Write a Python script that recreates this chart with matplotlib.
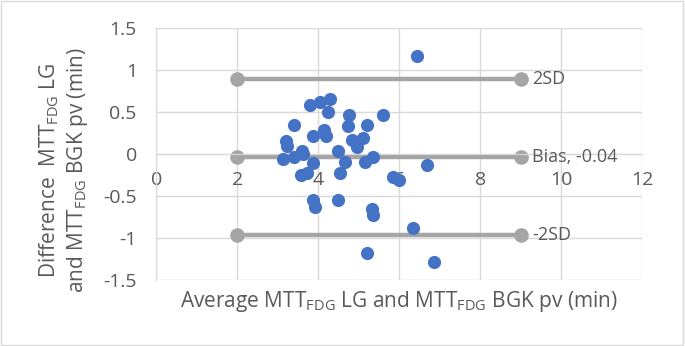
import matplotlib.pyplot as plt
from matplotlib.patches import Rectangle

plt.rcParams['font.family'] = ['Open Sans', 'DejaVu Sans']
plt.rcParams['mathtext.fontset'] = 'custom'
plt.rcParams['mathtext.rm'] = 'Open Sans'
plt.rcParams['mathtext.it'] = 'Open Sans'

# Bland-Altman data
avg_mtt = [3.80, 4.04, 4.28, 4.23, 4.75, 5.59, 3.39, 4.74, 5.20, 4.13,
           3.88, 4.19, 3.19, 4.83, 5.11, 4.95, 3.22, 3.59, 3.14, 3.39,
           3.63, 3.86, 3.57, 3.71, 4.49, 4.66, 4.54, 5.15, 5.36, 5.85,
           5.98, 6.68, 6.43, 3.86, 3.92, 4.48, 5.32, 5.34, 6.35, 5.19, 6.86]
diff_mtt = [0.58, 0.62, 0.66, 0.50, 0.47, 0.46, 0.35, 0.33, 0.35, 0.29,
            0.21, 0.21, 0.16, 0.17, 0.19, 0.08, 0.09, 0.04, -0.06, -0.04,
            0.00, -0.11, -0.25, -0.23, 0.04, -0.09, -0.23, -0.09, -0.04, -0.27,
            -0.31, -0.13, 1.17, -0.55, -0.63, -0.55, -0.66, -0.73, -0.88, -1.18, -1.28]

line_x = [2, 9]
bias = -0.04
upper = 0.89
lower = -0.97
ref_lines = [(upper, '2SD'), (bias, 'Bias, -0.04'), (lower, '-2SD')]

blue = '#4472C4'
gray = '#A5A5A5'
grid_c = '#D9D9D9'
text_c = '#595959'

fig = plt.figure(figsize=(6.85, 3.46), dpi=100)
ax = fig.add_axes([0.2282, 0.1908, 0.7095, 0.7283])

for val, lab in ref_lines:
    ax.plot(line_x, [val, val], color=gray, lw=3.2, marker='o', ms=9.5, zorder=2)
    ax.annotate(lab, (line_x[1], val), xytext=(8, 0), textcoords='offset points',
                va='center', ha='left', fontsize=13, color=text_c)

ax.scatter(avg_mtt, diff_mtt, s=90, color=blue, zorder=3, linewidths=0)

ax.set_xlim(0, 12)
ax.set_ylim(-1.5, 1.5)
ax.set_xticks(range(0, 13, 2))
ax.set_yticks([-1.5, -1, -0.5, 0, 0.5, 1, 1.5])
ax.set_yticklabels(['-1.5', '-1', '-0.5', '0', '0.5', '1', '1.5'])
ax.grid(True, color=grid_c, lw=1)
ax.set_axisbelow(True)

for s in ['top', 'right']:
    ax.spines[s].set_visible(False)
ax.spines['left'].set_color(grid_c)
ax.spines['bottom'].set_color(grid_c)
ax.spines['bottom'].set_position(('data', 0))
ax.tick_params(length=0, labelsize=14, colors=text_c)
ax.tick_params(axis='x', pad=12)
ax.tick_params(axis='y', pad=14)

fig.text(399 / 685, 1 - 302 / 346,
         r'Average MTT$_{\mathrm{FDG}}$ LG and MTT$_{\mathrm{FDG}}$ BGK pv (min)',
         ha='center', va='center', fontsize=15, color=text_c)
fig.text(64 / 685, 1 - 170 / 346,
         'Difference  MTT$_{\\mathrm{FDG}}$ LG\nand MTT$_{\\mathrm{FDG}}$ BGK pv (min)',
         ha='center', va='center', rotation=90, fontsize=15, color=text_c,
         multialignment='center', linespacing=1.2)

fig.patches.append(Rectangle((0.002, 0.003), 0.995, 0.994, transform=fig.transFigure,
                             fill=False, edgecolor=grid_c, lw=1))

fig.savefig('out.png', dpi=100)
